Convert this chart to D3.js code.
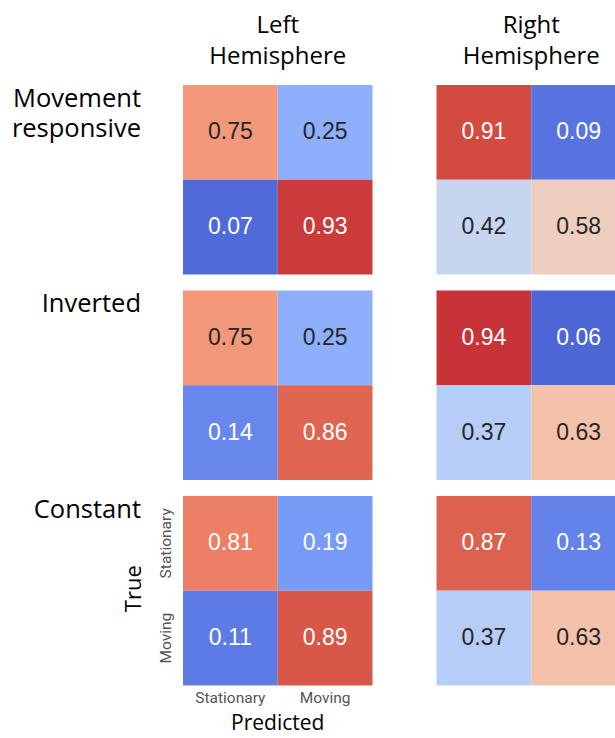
<!DOCTYPE html>
<html>
<head>
<meta charset="utf-8">
<script src="https://cdn.jsdelivr.net/npm/d3@7"></script>
<style>
  body { margin: 0; background: #fff; }
</style>
</head>
<body>
<div id="chart"></div>
<script>
// data
var conditions = ["Movement responsive", "Inverted", "Constant"];
var conditionLines = [["Movement", "responsive"], ["Inverted"], ["Constant"]];
var hemispheres = ["Left", "Right"];
var classes = ["Stationary", "Moving"];

// rows = true class, cols = predicted class
var leftMovement = [[0.75, 0.25], [0.07, 0.93]];
var leftInverted = [[0.75, 0.25], [0.14, 0.86]];
var leftConstant = [[0.81, 0.19], [0.11, 0.89]];
var rightMovement = [[0.91, 0.09], [0.42, 0.58]];
var rightInverted = [[0.94, 0.06], [0.37, 0.63]];
var rightConstant = [[0.87, 0.13], [0.37, 0.63]];

var matrices = {
    "Left": [leftMovement, leftInverted, leftConstant],
    "Right": [rightMovement, rightInverted, rightConstant]
};

// matplotlib coolwarm, sampled at 0, 0.1, ... 1
var coolwarmStops = ["#3b4cc0", "#5977e3", "#7b9ff9", "#9ebeff", "#c0d4f5", "#dddcdc",
                     "#f2cbb7", "#f7ac8e", "#ee8468", "#d65244", "#b40426"];

function init() {
    var w = 615;
    var h = 738;

    var svg = d3.select("#chart")
        .append("svg")
        .attr("width", w)
        .attr("height", h);

    var color = d3.scaleLinear()
        .domain(d3.range(coolwarmStops.length).map(function (i) { return i / (coolwarmStops.length - 1); }))
        .range(coolwarmStops)
        .interpolate(d3.interpolateRgb);

    var hemiX = d3.scaleBand()
        .domain(hemispheres)
        .range([183, 626])
        .paddingInner(0.2525);

    var condY = d3.scaleBand()
        .domain(conditions)
        .range([85, 685])
        .paddingInner(0.08);

    var cell = d3.scaleBand()
        .domain(classes)
        .range([0, hemiX.bandwidth()]);

    function lum(c) {
        var rgb = d3.rgb(c);
        var lin = [rgb.r, rgb.g, rgb.b].map(function (v) {
            v = v / 255;
            return v <= 0.03928 ? v / 12.92 : Math.pow((v + 0.055) / 1.055, 2.4);
        });
        return 0.2126 * lin[0] + 0.7152 * lin[1] + 0.0722 * lin[2];
    }

    // flatten into cells
    var cells = [];
    hemispheres.forEach(function (hemi) {
        conditions.forEach(function (cond, ci) {
            var m = matrices[hemi][ci];
            classes.forEach(function (tr, ri) {
                classes.forEach(function (pr, pi) {
                    cells.push({ hemi: hemi, cond: cond, truth: tr, pred: pr, value: m[ri][pi] });
                });
            });
        });
    });

    var g = svg.append("g");

    g.selectAll("rect")
        .data(cells)
        .enter()
        .append("rect")
        .attr("x", function (d) { return hemiX(d.hemi) + cell(d.pred); })
        .attr("y", function (d) { return condY(d.cond) + cell(d.truth); })
        .attr("width", cell.bandwidth())
        .attr("height", cell.bandwidth())
        .attr("fill", function (d) { return color(d.value); });

    g.selectAll("text.val")
        .data(cells)
        .enter()
        .append("text")
        .attr("class", "val")
        .text(function (d) { return d.value.toFixed(2); })
        .attr("x", function (d) { return hemiX(d.hemi) + cell(d.pred) + cell.bandwidth() / 2; })
        .attr("y", function (d) { return condY(d.cond) + cell(d.truth) + cell.bandwidth() / 2 - 1; })
        .attr("text-anchor", "middle")
        .attr("dominant-baseline", "central")
        .attr("font-family", "Liberation Sans, Arial, sans-serif")
        .attr("font-size", 23)
        .attr("fill", function (d) { return lum(color(d.value)) > 0.408 ? "#262626" : "#fff"; });

    // hemisphere titles
    var titles = svg.selectAll("text.title")
        .data(hemispheres)
        .enter()
        .append("text")
        .attr("class", "title")
        .attr("text-anchor", "middle")
        .attr("font-family", "Open Sans, sans-serif")
        .attr("font-size", 24)
        .attr("fill", "#000");
    titles.append("tspan")
        .attr("x", function (d) { return hemiX(d) + hemiX.bandwidth() / 2; })
        .attr("y", 33)
        .text(function (d) { return d; });
    titles.append("tspan")
        .attr("x", function (d) { return hemiX(d) + hemiX.bandwidth() / 2; })
        .attr("y", 64)
        .text("Hemisphere");

    // condition labels
    var rowLab = svg.selectAll("text.cond")
        .data(conditions)
        .enter()
        .append("text")
        .attr("class", "cond")
        .attr("text-anchor", "end")
        .attr("font-family", "Open Sans, sans-serif")
        .attr("font-size", 25.5)
        .attr("fill", "#000");
    rowLab.selectAll("tspan")
        .data(function (d, i) { return conditionLines[i].map(function (t, j) { return { t: t, j: j, cond: d }; }); })
        .enter()
        .append("tspan")
        .attr("x", 141)
        .attr("y", function (d) { return condY(d.cond) + 22 + d.j * 30; })
        .text(function (d) { return d.t; });

    // axes on the bottom-left panel
    var lastCond = conditions[conditions.length - 1];
    var x0 = hemiX("Left");
    var y0 = condY(lastCond);

    svg.selectAll("text.xtick")
        .data(classes)
        .enter()
        .append("text")
        .attr("class", "xtick")
        .text(function (d) { return d; })
        .attr("x", function (d) { return x0 + cell(d) + cell.bandwidth() / 2; })
        .attr("y", y0 + cell.bandwidth() * 2 + 13)
        .attr("text-anchor", "middle")
        .attr("dominant-baseline", "central")
        .attr("font-family", "Roboto, sans-serif")
        .attr("font-size", 15.5)
        .attr("fill", "#555");

    svg.selectAll("text.ytick")
        .data(classes)
        .enter()
        .append("text")
        .attr("class", "ytick")
        .text(function (d) { return d; })
        .attr("transform", function (d) {
            return "translate(" + (x0 - 17) + "," + (y0 + cell(d) + cell.bandwidth() / 2) + ") rotate(-90)";
        })
        .attr("text-anchor", "middle")
        .attr("dominant-baseline", "central")
        .attr("font-family", "Roboto, sans-serif")
        .attr("font-size", 15.5)
        .attr("fill", "#555");

    svg.append("text")
        .text("Predicted")
        .attr("x", x0 + hemiX.bandwidth() / 2)
        .attr("y", 730)
        .attr("text-anchor", "middle")
        .attr("font-family", "Open Sans, sans-serif")
        .attr("font-size", 21)
        .attr("fill", "#000");

    svg.append("text")
        .text("True")
        .attr("transform", "translate(141," + (y0 + cell.bandwidth() - 2) + ") rotate(-90)")
        .attr("text-anchor", "middle")
        .attr("font-family", "Open Sans, sans-serif")
        .attr("font-size", 22)
        .attr("fill", "#000");
}
window.onload = init;
</script>
</body>
</html>
